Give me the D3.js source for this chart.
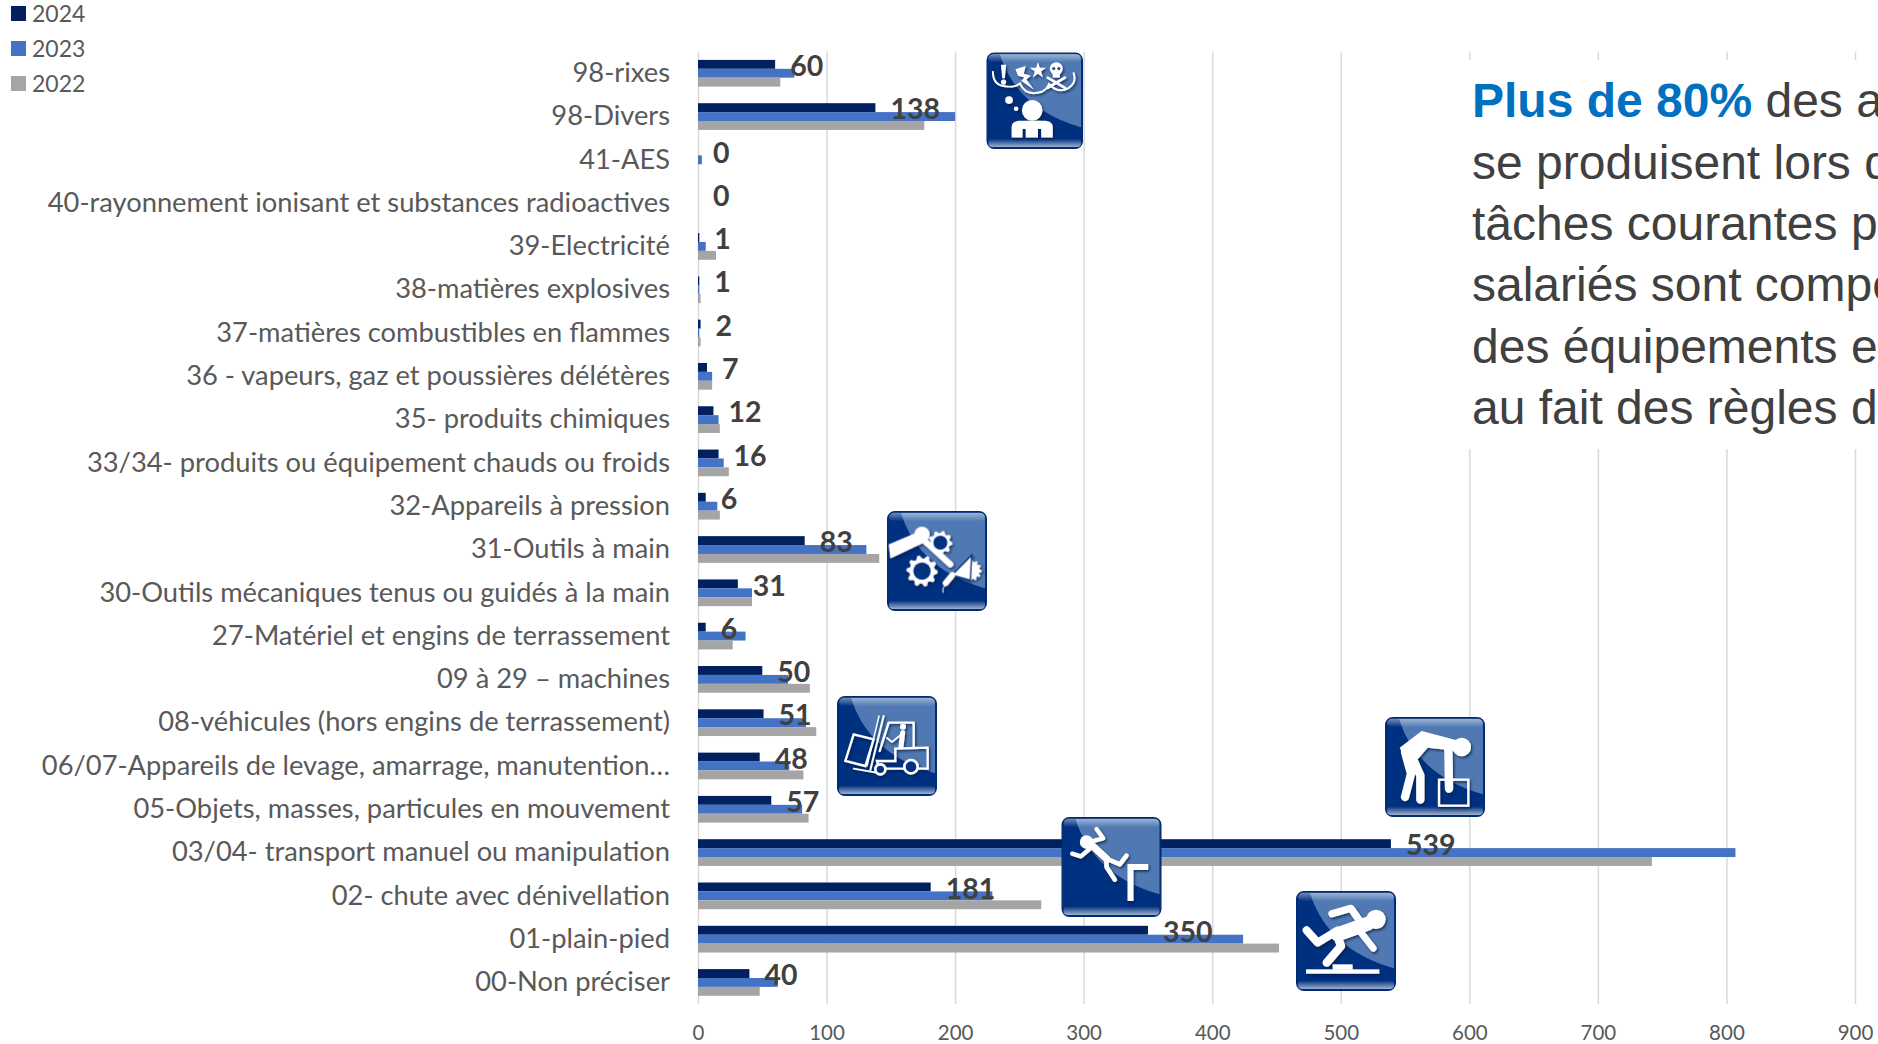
<!DOCTYPE html>
<html>
<head>
<meta charset="utf-8">
<script src="https://cdn.jsdelivr.net/npm/d3@7/dist/d3.min.js"></script>
<style>
html, body { margin: 0; padding: 0; background: #fff; overflow: hidden; }
svg { display: block; }
text { font-family: Lato, sans-serif; }
</style>
</head>
<body>
<div id="viz"></div>
<script>
// data, top row first
var categories = [
	'98-rixes', '98-Divers', '41-AES',
	'40-rayonnement ionisant et substances radioactives',
	'39-Electricité', '38-matières explosives', '37-matières combustibles en flammes',
	'36 - vapeurs, gaz et poussières délétères', '35- produits chimiques',
	'33/34- produits ou équipement chauds ou froids', '32-Appareils à pression',
	'31-Outils à main', '30-Outils mécaniques tenus ou guidés à la main',
	'27-Matériel et engins de terrassement', '09 à 29 – machines',
	'08-véhicules (hors engins de terrassement)',
	'06/07-Appareils de levage, amarrage, manutention…',
	'05-Objets, masses, particules en mouvement', '03/04- transport manuel ou manipulation',
	'02- chute avec dénivellation', '01-plain-pied', '00-Non préciser'
];
var values2024 = [60, 138, 0, 0, 1, 1, 2, 7, 12, 16, 6, 83, 31, 6, 50, 51, 48, 57, 539, 181, 350, 40];
var values2023 = [75, 200, 3, 0, 6, 1, 1, 11, 16, 20, 15, 131, 42, 37, 70, 84, 71, 81, 807, 229, 424, 62];
var values2022 = [64, 176, 0, 0, 14, 2, 2, 11, 17, 24, 17, 141, 42, 27, 87, 92, 82, 86, 742, 267, 452, 48];
var seriesNames = ['2024', '2023', '2022'];
var seriesColors = ['#002060', '#4472C4', '#A5A5A5'];
var xTicks = [0, 100, 200, 300, 400, 500, 600, 700, 800, 900];
var noteLines = ['se produisent lors d', 'tâches courantes p', 'salariés sont compé', 'des équipements e', 'au fait des règles d'];

var width = 1878, height = 1044;
var plotLeft = 698, plotRight = 1855, plotTop = 51.6, plotBottom = 1004.1;

var svg = d3.select('#viz').append('svg')
	.attr('width', width)
	.attr('height', height);

var defs = svg.append('defs');
var shadow = defs.append('filter').attr('id', 'iconShadow')
	.attr('x', '-20%').attr('y', '-20%').attr('width', '140%').attr('height', '140%');
shadow.append('feDropShadow')
	.attr('dx', 4).attr('dy', 5).attr('stdDeviation', 3)
	.attr('flood-color', '#001a40').attr('flood-opacity', 0.75);
var glossTop = defs.append('linearGradient').attr('id', 'glossTop').attr('x1', 0).attr('x2', 0).attr('y1', 0).attr('y2', 1);
glossTop.append('stop').attr('offset', 0).attr('stop-color', '#fff').attr('stop-opacity', 0.45);
glossTop.append('stop').attr('offset', 1).attr('stop-color', '#fff').attr('stop-opacity', 0);
var glossBottom = defs.append('linearGradient').attr('id', 'glossBottom').attr('x1', 0).attr('x2', 0).attr('y1', 0).attr('y2', 1);
glossBottom.append('stop').attr('offset', 0).attr('stop-color', '#fff').attr('stop-opacity', 0);
glossBottom.append('stop').attr('offset', 1).attr('stop-color', '#fff').attr('stop-opacity', 0.62);

// scales
var x = d3.scaleLinear().domain([0, 900]).range([plotLeft, plotRight]);
var y = d3.scaleBand().domain(categories).range([plotTop, plotBottom])
	.paddingInner(0.383).paddingOuter(0.1915);
var ySeries = d3.scaleBand().domain(seriesNames).range([0, y.bandwidth()]);

// vertical grid + x labels
var xAxis = svg.append('g')
	.attr('class', 'axis xAxis')
	.attr('transform', 'translate(0,' + plotBottom + ')')
	.call(d3.axisBottom(x).tickValues(xTicks).tickSize(-(plotBottom - plotTop)).tickPadding(21));
xAxis.select('.domain').remove();
xAxis.selectAll('line').attr('stroke', '#D9D9D9').attr('stroke-width', 1.5);
xAxis.selectAll('text').attr('fill', '#595959').style('font-size', '20.5px');

// category labels
var yAxis = svg.append('g')
	.attr('class', 'axis yAxis')
	.attr('transform', 'translate(' + plotLeft + ',0)')
	.call(d3.axisLeft(y).tickSize(0).tickPadding(28));
yAxis.select('.domain').remove();
yAxis.selectAll('text').attr('fill', '#595959').style('font-size', '27.3px');

// bars
var allSeries = [values2024, values2023, values2022];
allSeries.forEach(function (vals, s) {
	svg.append('g').selectAll('rect')
		.data(vals)
		.enter()
		.append('rect')
		.attr('x', x(0))
		.attr('y', function (d, i) {return y(categories[i]) + ySeries(seriesNames[s]);})
		.attr('width', function (d) {return x(d) - x(0);})
		.attr('height', ySeries.bandwidth())
		.attr('fill', seriesColors[s]);
});

// value labels, 2024 only
svg.append('g').selectAll('text')
	.data(values2024)
	.enter()
	.append('text')
	.attr('x', function (d) {return x(d) + 15;})
	.attr('y', function (d, i) {return y(categories[i]) + y.bandwidth() / 2 - 7.5;})
	.attr('dy', '0.36em')
	.attr('fill', '#404040')
	.style('font-size', '28.5px')
	.style('font-weight', 700)
	.text(function (d) {return d;});

// legend
var legend = svg.append('g').selectAll('g')
	.data(seriesNames)
	.enter()
	.append('g')
	.attr('transform', function (d, i) {return 'translate(11,' + (6 + i * 35) + ')';});
legend.append('rect')
	.attr('width', 15).attr('height', 15)
	.attr('fill', function (d, i) {return seriesColors[i];});
legend.append('text')
	.attr('x', 21).attr('y', 7.7).attr('dy', '0.36em')
	.attr('fill', '#595959')
	.style('font-size', '23px')
	.text(function (d) {return d;});

// text box on top of the grid, runs off the right edge
svg.append('rect')
	.attr('x', 1462).attr('y', 60)
	.attr('width', width - 1462).attr('height', 389)
	.attr('fill', '#fff');
var note = svg.append('g').style('font-size', '48px');
var first = note.append('text').attr('x', 1472).attr('y', 117).attr('fill', '#404040')
	.style('font-family', '"Liberation Sans", Arial, sans-serif');
first.append('tspan').attr('fill', '#0070C0').style('font-weight', 700).text('Plus de 80%');
first.append('tspan').text(' des a');
note.selectAll('.line')
	.data(noteLines)
	.enter()
	.append('text')
	.attr('class', 'line')
	.attr('x', 1472)
	.attr('y', function (d, i) {return 178.5 + i * 61.4;})
	.attr('fill', '#404040')
	.style('font-family', '"Liberation Sans", Arial, sans-serif')
	.text(function (d) {return d;});

// icons: drawn in a 300 unit square, scaled down to their box
function iconBase(px, py, size) {
	var g = svg.append('g').attr('transform', 'translate(' + px + ',' + py + ') scale(' + (size / 300) + ')');
	g.append('rect').attr('x', 2).attr('y', 2).attr('width', 296).attr('height', 296).attr('rx', 22).attr('fill', '#003080')
		.attr('stroke', '#00296f').attr('stroke-width', 4);
	g.append('path').attr('d', 'M42,6 Q95,175 294,232 L294,22 Q294,6 278,6 Z').attr('fill', '#5079B3');
	g.append('rect').attr('x', 6).attr('y', 5).attr('width', 288).attr('height', 26).attr('rx', 16).attr('fill', 'url(#glossTop)');
	g.append('rect').attr('x', 6).attr('y', 268).attr('width', 288).attr('height', 26).attr('rx', 12).attr('fill', 'url(#glossBottom)');
	return g.append('g').attr('filter', 'url(#iconShadow)');
}
function limb(g, pts, w) {
	g.append('path').attr('d', d3.line()(pts))
		.attr('fill', 'none').attr('stroke', '#fff').attr('stroke-width', w)
		.attr('stroke-linecap', 'round').attr('stroke-linejoin', 'round');
}
function shape(g, d) {
	g.append('path').attr('d', d).attr('fill', '#fff');
}
function gear(g, cx, cy, r, hole, teeth) {
	var pts = [];
	for (var i = 0; i < teeth * 4; i++) {
		var a = i / (teeth * 4) * 2 * Math.PI;
		var rr = (i % 4 < 2) ? r : r * 0.8;
		pts.push([rr * Math.cos(a), rr * Math.sin(a)]);
	}
	g.append('path').attr('d', d3.line().curve(d3.curveLinearClosed)(pts))
		.attr('transform', 'translate(' + cx + ',' + cy + ')').attr('fill', '#fff');
	if (hole > 0) g.append('circle').attr('cx', cx).attr('cy', cy).attr('r', hole).attr('fill', '#003080');
}

// hazards
var ic = iconBase(986.5, 52.5, 96.5);
ic.append('path')
	.attr('d', 'M20,58 Q18,108 72,106 Q90,108 104,96 Q122,138 172,122 Q188,114 194,98 Q224,130 256,110 Q282,92 270,62')
	.attr('fill', 'none').attr('stroke', '#fff').attr('stroke-width', 6);
shape(ic, 'M45,38 L61,38 L57,80 L49,80 Z');
ic.append('circle').attr('cx', 53).attr('cy', 92).attr('r', 8).attr('fill', '#fff');
shape(ic, 'M90,52 L122,42 L116,66 L138,72 L124,84 L148,116 L108,88 L118,78 L98,72 Z');
ic.append('path').attr('d', d3.symbol().type(d3.symbolStar).size(800)())
	.attr('transform', 'translate(160,56)').attr('fill', '#fff');
ic.append('circle').attr('cx', 217).attr('cy', 50).attr('r', 20).attr('fill', '#fff');
ic.append('rect').attr('x', 206).attr('y', 60).attr('width', 22).attr('height', 18).attr('fill', '#fff');
limb(ic, [[190, 78], [244, 110]], 8);
limb(ic, [[244, 78], [190, 110]], 8);
ic.append('circle').attr('cx', 209).attr('cy', 50).attr('r', 5).attr('fill', '#27508f');
ic.append('circle').attr('cx', 225).attr('cy', 50).attr('r', 5).attr('fill', '#27508f');
ic.append('circle').attr('cx', 70).attr('cy', 148).attr('r', 12).attr('fill', '#fff');
ic.append('circle').attr('cx', 92).attr('cy', 175).attr('r', 7).attr('fill', '#fff');
ic.append('circle').attr('cx', 142).attr('cy', 180).attr('r', 32).attr('fill', '#fff');
shape(ic, 'M78,264 L78,232 Q78,214 100,212 L184,212 Q206,214 206,232 L206,264 L170,264 L170,238 L160,238 L160,264 L122,264 L122,238 L112,238 L112,264 Z');

// hand tools
ic = iconBase(887, 511, 100);
ic.append('circle').attr('cx', 105).attr('cy', 70).attr('r', 23).attr('fill', '#fff');
shape(ic, 'M5,100 L95,62 L116,92 L10,142 Z');
limb(ic, [[108, 85], [190, 160]], 18);
gear(ic, 160, 95, 36, 21, 9);
gear(ic, 105, 180, 47, 26, 10);
gear(ic, 252, 178, 32, 0, 12);
ic.append('path').attr('d', 'M195,192 L254,132 L250,208 Z').attr('fill', '#fff').attr('stroke', '#003080').attr('stroke-width', 4);
limb(ic, [[196, 192], [176, 216]], 18);
ic.append('path').attr('d', 'M178,220 Q165,228 168,245').attr('fill', 'none').attr('stroke', '#fff').attr('stroke-width', 3);

// forklift
ic = iconBase(837, 696, 100);
limb(ic, [[140, 60], [100, 222]], 6);
limb(ic, [[126, 60], [90, 210]], 4);
ic.append('path').attr('d', 'M50,115 L110,130 L85,210 L25,195 Z').attr('fill', 'none').attr('stroke', '#fff').attr('stroke-width', 7);
limb(ic, [[50, 218], [118, 230]], 5);
limb(ic, [[128, 165], [155, 80], [230, 80], [230, 155]], 7);
ic.append('path').attr('d', 'M120,195 L175,195 L175,158 L272,155 L272,218 L125,218 Z').attr('fill', 'none').attr('stroke', '#fff').attr('stroke-width', 7);
ic.append('circle').attr('cx', 130).attr('cy', 220).attr('r', 15).attr('fill', '#003080').attr('stroke', '#fff').attr('stroke-width', 8);
ic.append('circle').attr('cx', 222).attr('cy', 212).attr('r', 20).attr('fill', '#003080').attr('stroke', '#fff').attr('stroke-width', 8);
ic.append('circle').attr('cx', 198).attr('cy', 92).attr('r', 9).attr('fill', '#fff');
limb(ic, [[197, 110], [192, 152]], 15);
limb(ic, [[192, 116], [165, 138], [150, 126]], 5);

// lifting
ic = iconBase(1385, 717, 100);
ic.append('circle').attr('cx', 230).attr('cy', 90).attr('r', 28).attr('fill', '#fff');
shape(ic, 'M44,92 L110,42 L215,70 L215,102 L128,92 L100,125 L60,125 Z');
limb(ic, [[60, 105], [78, 170], [60, 240]], 25);
limb(ic, [[86, 130], [106, 175], [106, 248]], 25);
limb(ic, [[190, 90], [192, 215]], 25);
ic.append('rect').attr('x', 162).attr('y', 188).attr('width', 88).attr('height', 78)
	.attr('fill', 'none').attr('stroke', '#fff').attr('stroke-width', 7);

// fall from height
ic = iconBase(1061.5, 817, 100);
ic.append('circle').attr('cx', 75).attr('cy', 75).attr('r', 20).attr('fill', '#fff');
limb(ic, [[88, 82], [135, 125]], 22);
limb(ic, [[88, 74], [125, 64], [105, 36]], 13);
limb(ic, [[84, 96], [58, 118], [32, 110]], 13);
limb(ic, [[135, 125], [175, 142], [195, 116]], 14);
limb(ic, [[135, 125], [135, 150], [160, 188]], 14);
ic.append('path').attr('d', 'M207,252 L207,150 L260,150').attr('fill', 'none').attr('stroke', '#fff').attr('stroke-width', 18);

// trip
ic = iconBase(1296, 891, 100);
ic.append('circle').attr('cx', 240).attr('cy', 85).attr('r', 29).attr('fill', '#fff');
limb(ic, [[215, 98], [125, 130]], 42);
limb(ic, [[190, 88], [165, 52], [108, 68]], 22);
limb(ic, [[125, 118], [65, 155], [32, 118]], 24);
limb(ic, [[120, 125], [135, 165], [92, 215]], 25);
limb(ic, [[190, 118], [232, 172]], 20);
ic.append('rect').attr('x', 30).attr('y', 235).attr('width', 220).attr('height', 13).attr('fill', '#fff');
ic.append('rect').attr('x', 110).attr('y', 220).attr('width', 60).attr('height', 16).attr('fill', '#fff');
</script>
</body>
</html>
